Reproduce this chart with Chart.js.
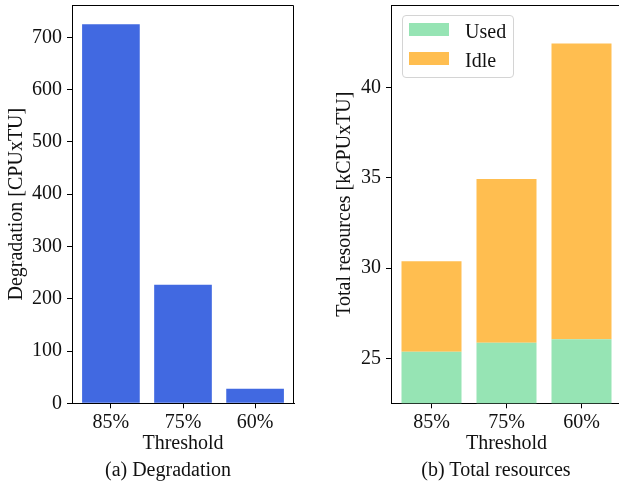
<!DOCTYPE html>
<html><head><meta charset="utf-8">
<script src="https://cdn.jsdelivr.net/npm/chart.js@4.4.0/dist/chart.umd.min.js"></script>
<style>
html,body{margin:0;padding:0;background:#fff;overflow:hidden;width:619px;height:487px;}
#wa{position:absolute;left:0;top:0;width:310px;height:487px;}
#wb{position:absolute;left:310px;top:0;width:315px;height:487px;}
.cap{position:absolute;top:459px;font-family:'Liberation Serif',serif;font-size:20px;line-height:20px;color:#111;white-space:pre;transform:translateX(-50%);}
#legend{position:absolute;left:401.5px;top:15px;width:112px;height:62.5px;border:1px solid #d4d4d4;border-radius:4px;background:rgba(255,255,255,0.8);box-sizing:border-box;font-family:'Liberation Serif',serif;font-size:20px;color:#111;}
.li{position:absolute;left:6.6px;height:13px;}
.sw{position:absolute;left:0;top:0;width:40px;height:13px;}
.lt{position:absolute;left:56px;top:-2px;line-height:20px;white-space:pre;}
</style></head>
<body>
<div id="wa"><canvas id="ca"></canvas></div>
<div id="wb"><canvas id="cb"></canvas></div>
<div class="cap" style="left:168px">(a) Degradation</div>
<div class="cap" style="left:496px">(b) Total resources</div>
<div id="legend"></div>
<script>
// ---- data ----
const categories = ['85%', '75%', '60%'];
const degradation = [725, 227, 28];
const usedRes = [25.37, 25.87, 26.07];
const idleRes = [5.02, 9.07, 16.37];
const yTicksA = [0, 100, 200, 300, 400, 500, 600, 700];
const yTicksB = [25, 30, 35, 40];
const seriesNamesB = ['Used', 'Idle'];
const colorsB = ['#96e4b4', '#ffbe50'];

const FONT = {family: "'Liberation Serif', 'Times New Roman', serif", size: 20, lineHeight: 1.2};
const TXT = '#111';
const idx = categories.map((_, i) => i);

const frame = {
  id: 'frame',
  afterDraw(chart) {
    const {ctx, chartArea: a} = chart;
    ctx.save();
    ctx.strokeStyle = '#000';
    ctx.lineWidth = 1;
    ctx.beginPath();
    ctx.moveTo(a.left, a.top + 0.5);
    ctx.lineTo(a.right - 0.5, a.top + 0.5);
    ctx.lineTo(a.right - 0.5, a.bottom);
    ctx.stroke();
    ctx.restore();
  }
};

function xScale(height) {
  return {
    type: 'linear', min: -0.54, max: 2.54, stacked: true, offset: false,
    afterBuildTicks: s => { s.ticks = idx.map(v => ({value: v})); },
    afterFit: s => { s.height = height; s.paddingLeft = 0; s.paddingRight = 0; },
    ticks: {callback: v => categories[v], font: FONT, color: TXT, padding: 2, autoSkip: false, maxRotation: 0},
    grid: {display: true, offset: false, drawOnChartArea: false, drawTicks: true, tickLength: 5, color: '#000'},
    border: {display: true, color: '#000', width: 1},
    title: {display: true, text: 'Threshold', font: FONT, color: TXT, padding: {top: 0, bottom: 0}}
  };
}
function yScale(min, max, ticks, width, title, tpad) {
  return {
    min: min, max: max, stacked: true,
    afterBuildTicks: s => { s.ticks = ticks.map(v => ({value: v})); },
    afterFit: s => { s.width = width; s.paddingTop = 0; s.paddingBottom = 0; },
    ticks: {font: FONT, color: TXT, padding: 5},
    grid: {display: true, drawOnChartArea: false, drawTicks: true, tickLength: 5, color: '#000'},
    border: {display: true, color: '#000', width: 1},
    title: {display: true, text: title, font: FONT, color: TXT, padding: {top: tpad, bottom: 0}}
  };
}
const common = {
  responsive: true, maintainAspectRatio: false, animation: false,
  plugins: {legend: {display: false}, tooltip: {enabled: false}}
};

new Chart(document.getElementById('ca'), {
  type: 'bar',
  data: {datasets: [{
    label: 'Degradation',
    data: idx.map(i => ({x: i, y: degradation[i]})),
    backgroundColor: '#4169e1', borderWidth: 0,
    barPercentage: 0.8, categoryPercentage: 1
  }]},
  options: Object.assign({}, common, {
    layout: {padding: {top: 5, right: 16, left: 0, bottom: 31.5}},
    scales: {x: xScale(52.2), y: yScale(0, 762, yTicksA, 72, 'Degradation [CPUxTU]', 5)}
  }),
  plugins: [frame]
});

new Chart(document.getElementById('cb'), {
  type: 'bar',
  data: {datasets: [usedRes, idleRes].map((arr, k) => ({
    label: seriesNamesB[k],
    data: idx.map(i => ({x: i, y: arr[i]})),
    backgroundColor: colorsB[k], borderWidth: 0,
    barPercentage: 0.8, categoryPercentage: 1
  }))},
  options: Object.assign({}, common, {
    layout: {padding: {top: 5, right: 3, left: 0, bottom: 31.5}},
    scales: {x: xScale(52.2), y: yScale(22.52, 44.57, yTicksB, 81, 'Total resources [kCPUxTU]', 23)}
  }),
  plugins: [frame]
});

// legend built from series names/colours
const lg = document.getElementById('legend');
seriesNamesB.forEach((n, k) => {
  const d = document.createElement('div');
  d.className = 'li';
  d.style.top = (7.3 + k * 28.4) + 'px';
  d.innerHTML = '<div class="sw" style="background:' + colorsB[k] + '"></div><div class="lt">' + n + '</div>';
  lg.appendChild(d);
});
</script>
</body></html>
